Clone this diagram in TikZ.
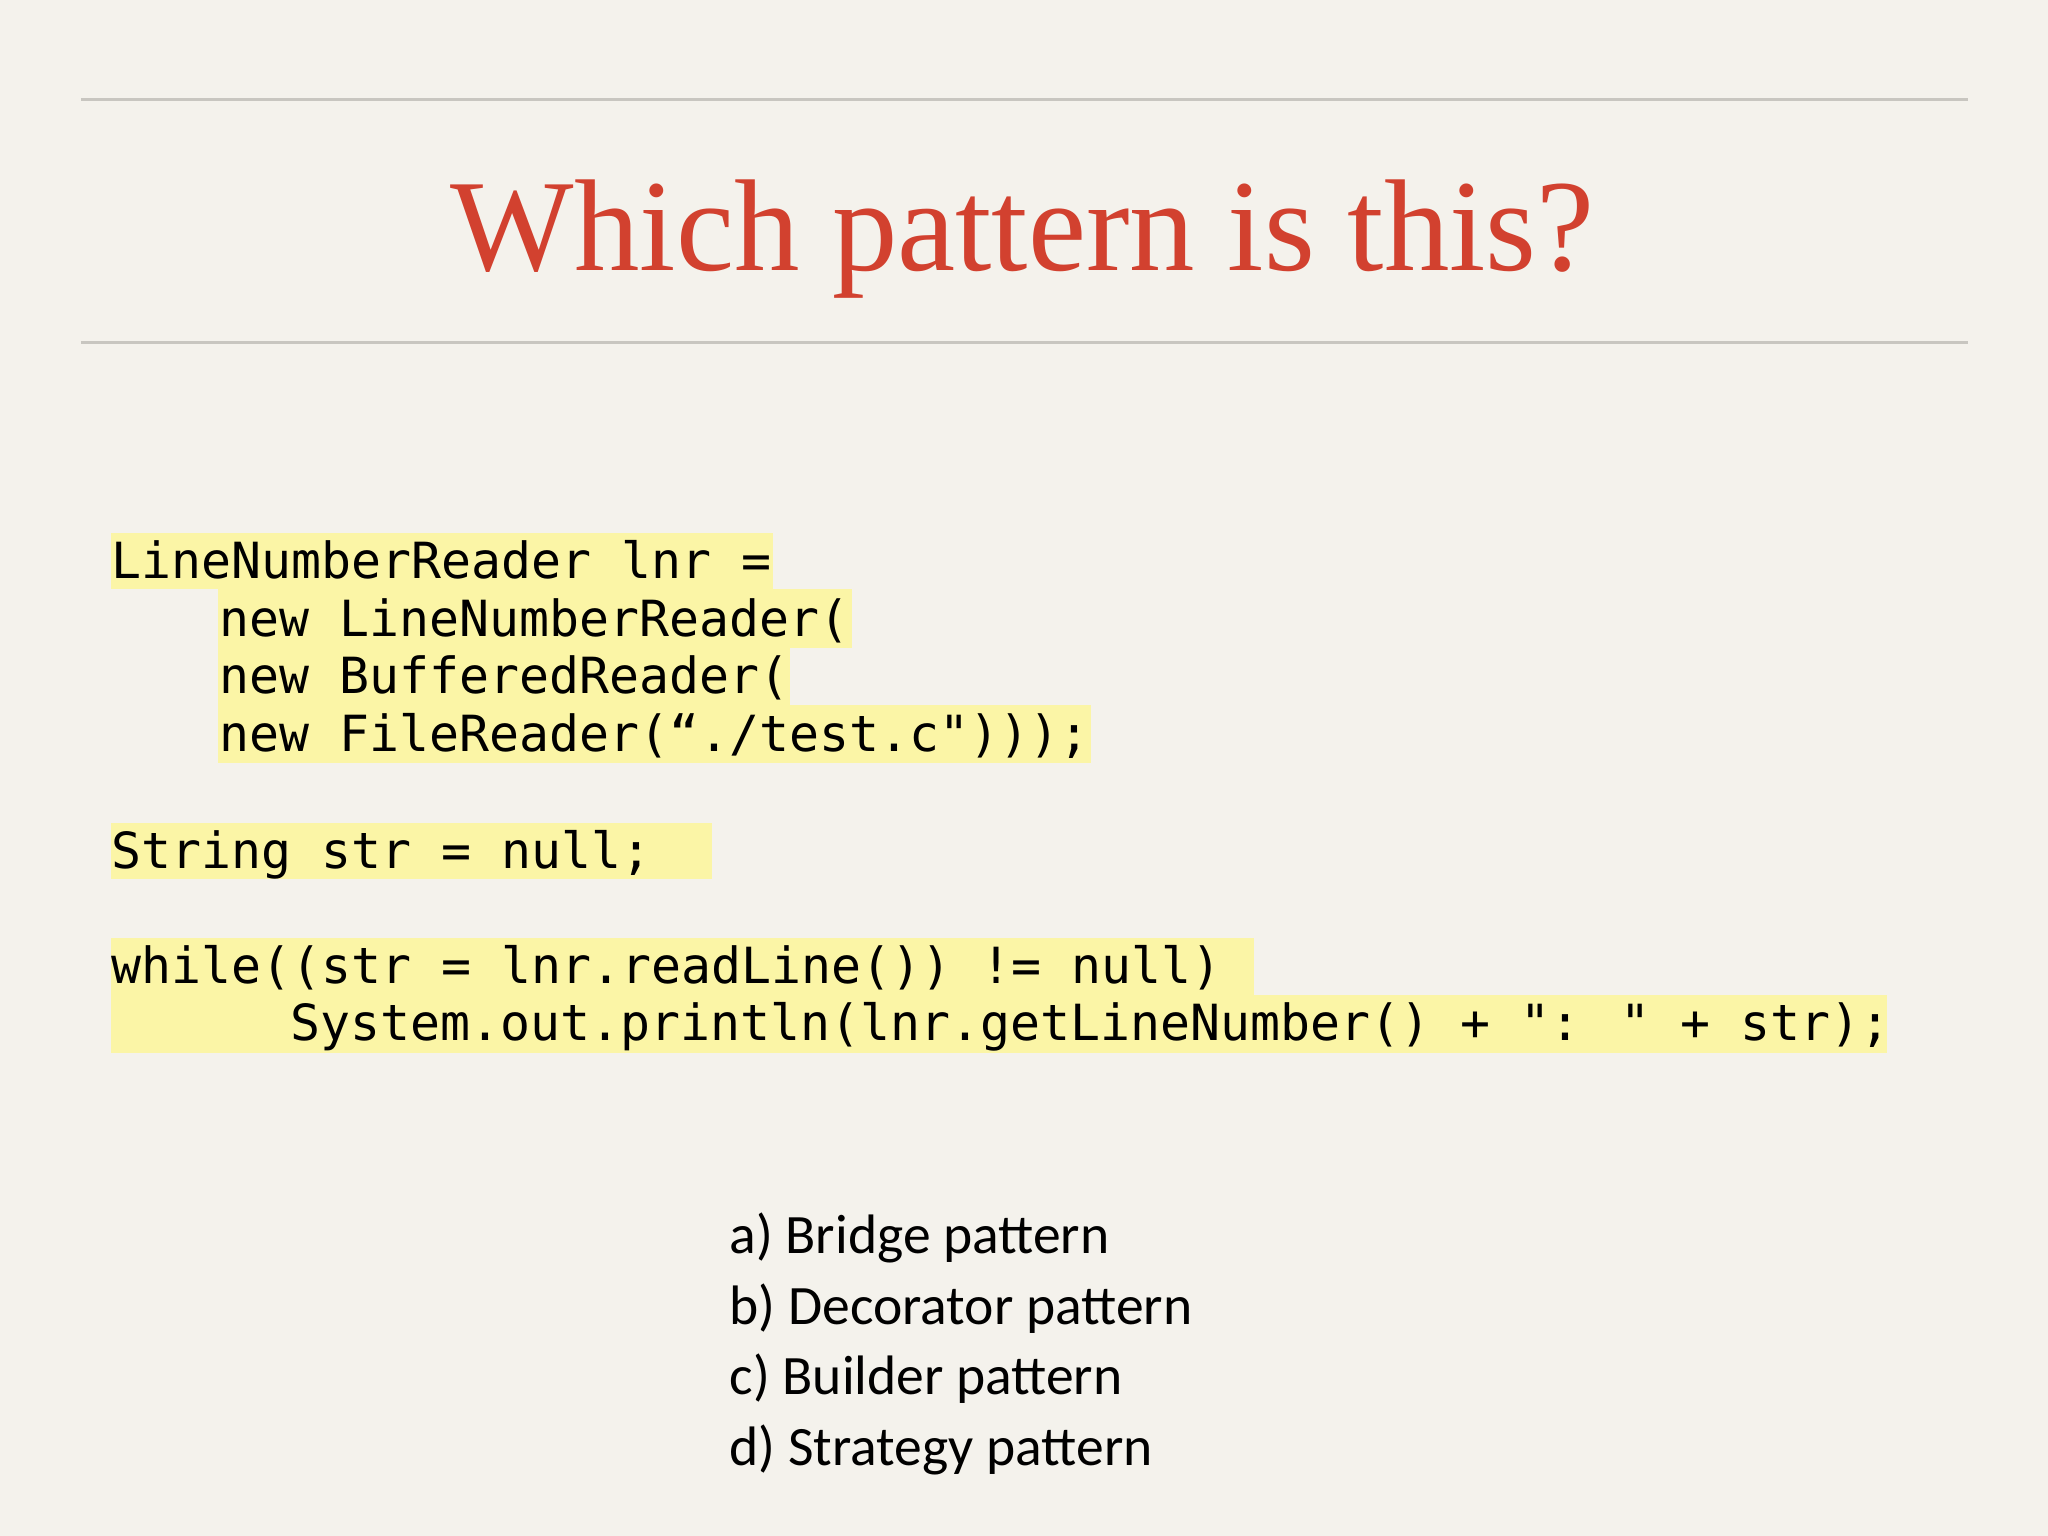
\documentclass[tikz,border=0pt]{standalone}
\usepackage{fontspec}
\setmainfont{Liberation Serif}
\newfontfamily\codefont{DejaVu Sans Mono}
\newfontfamily\ansfont{Carlito}
\definecolor{bg}{HTML}{F4F2EC}
\definecolor{hl}{HTML}{FBF5A6}
\definecolor{titlered}{HTML}{D2412F}
\definecolor{rule}{HTML}{C8C6C0}
\tikzset{
 code/.style={anchor=base west,inner sep=0pt,font=\codefont\fontsize{10.85pt}{13pt}\selectfont},
 ans/.style={anchor=base west,inner sep=0pt,font=\ansfont\fontsize{12.1pt}{15pt}\selectfont},
 hlbox/.style={fill=hl,draw=none}
}
\begin{document}
\begin{tikzpicture}[x=0.01cm,y=-0.01cm]
\fill[bg] (0,0) rectangle (1568,1176);
\draw[rule,line width=0.6pt] (62,76) -- (1507,76);
\draw[rule,line width=0.6pt] (62,262) -- (1507,262);
\node[anchor=base,inner sep=0pt,text=titlered] (title) at (783,207) {\resizebox{8.75cm}{!}{Which pattern is this?}};
% highlights
\fill[hlbox] (85,408) rectangle (592,451);
\fill[hlbox] (167,451) rectangle (652,496);
\fill[hlbox] (167,496) rectangle (605,540);
\fill[hlbox] (167,540) rectangle (835,584);
\fill[hlbox] (85,630) rectangle (545,673);
\fill[hlbox] (85,718) rectangle (960,762);
\fill[hlbox] (85,762) rectangle (1445,806);
% code
\node[code] (c1) at (85,443) {LineNumberReader lnr =};
\node[code] (c2) at (167,487) {new LineNumberReader(};
\node[code] (c3) at (167,531) {new BufferedReader(};
\node[code] (c4) at (167,575) {new FileReader(“./test.c")));};
\node[code] (c5) at (85,665) {String str = null;};
\node[code] (c6) at (85,753) {while((str = lnr.readLine()) != null)};
\node[code] (c7) at (222,797) {System.out.println(lnr.getLineNumber() + ": " + str);};
% answers
\node[ans] (a1) at (558,960) {a) Bridge pattern};
\node[ans] (a2) at (558,1014) {b) Decorator pattern};
\node[ans] (a3) at (558,1068) {c) Builder pattern};
\node[ans] (a4) at (558,1122) {d) Strategy pattern};
\end{tikzpicture}
\end{document}
